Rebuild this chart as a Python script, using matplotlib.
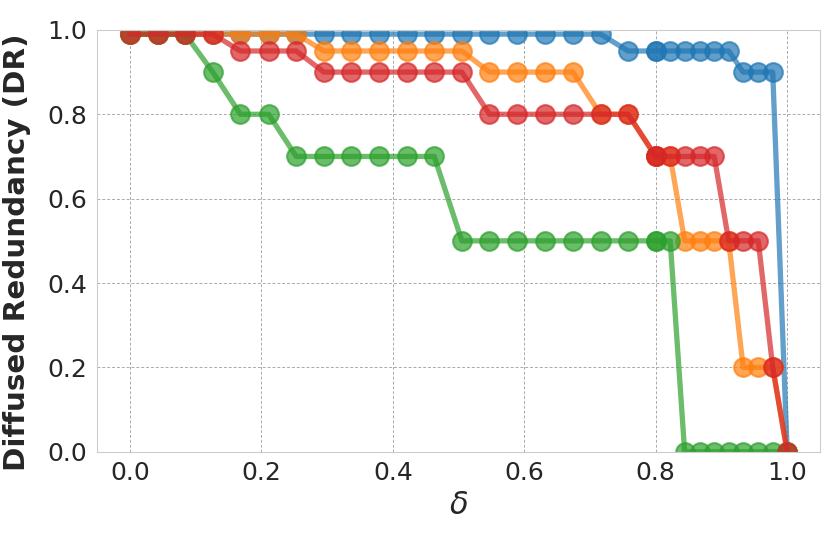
import matplotlib
matplotlib.use('Agg')
import matplotlib.pyplot as plt

# delta values (two sweeps: 0..0.8 and 0.8..1.0)
delta = [0.0, 0.042, 0.084, 0.126, 0.168, 0.211, 0.253, 0.295, 0.337, 0.379,
         0.421, 0.463, 0.505, 0.547, 0.589, 0.632, 0.674, 0.716, 0.758, 0.8,
         0.8, 0.822, 0.844, 0.867, 0.889, 0.911, 0.933, 0.956, 0.978, 1.0]

dr_blue = [0.99] * 18 + [0.95, 0.95,
           0.95, 0.95, 0.95, 0.95, 0.95, 0.95, 0.9, 0.9, 0.9, 0.0]
dr_orange = [0.99, 0.99, 0.99, 0.99, 0.99, 0.99, 0.99, 0.95, 0.95, 0.95,
             0.95, 0.95, 0.95, 0.9, 0.9, 0.9, 0.9, 0.8, 0.8, 0.7,
             0.7, 0.7, 0.5, 0.5, 0.5, 0.5, 0.2, 0.2, 0.2, 0.0]
dr_green = [0.99, 0.99, 0.99, 0.9, 0.8, 0.8, 0.7, 0.7, 0.7, 0.7,
            0.7, 0.7, 0.5, 0.5, 0.5, 0.5, 0.5, 0.5, 0.5, 0.5,
            0.5, 0.5, 0.0, 0.0, 0.0, 0.0, 0.0, 0.0, 0.0, 0.0]
dr_red = [0.99, 0.99, 0.99, 0.99, 0.95, 0.95, 0.95, 0.9, 0.9, 0.9,
          0.9, 0.9, 0.9, 0.8, 0.8, 0.8, 0.8, 0.8, 0.8, 0.7,
          0.7, 0.7, 0.7, 0.7, 0.7, 0.5, 0.5, 0.5, 0.2, 0.0]

series = [dr_blue, dr_orange, dr_green, dr_red]
colors = ['tab:blue', 'tab:orange', 'tab:green', 'tab:red']

fig, ax = plt.subplots(figsize=(8.3, 5.34), dpi=100)
fig.subplots_adjust(left=0.117, right=0.988, top=0.944, bottom=0.154)

for ys, c in zip(series, colors):
    ax.plot(delta, ys, color=c, marker='o', markersize=13.5, linewidth=3.8,
            markeredgewidth=1.5, alpha=0.7)

ax.set_xlim(-0.05, 1.05)
ax.set_ylim(0, 1)
ax.set_xticks([0.0, 0.2, 0.4, 0.6, 0.8, 1.0])
ax.set_yticks([0.0, 0.2, 0.4, 0.6, 0.8, 1.0])
ax.tick_params(labelsize=18, length=0, colors='#262626', pad=7)
ax.grid(True, linestyle=(0, (3, 2)), color='#aaaaaa', linewidth=0.7)
ax.set_axisbelow(True)
for s in ax.spines.values():
    s.set_color('#cccccc')

ax.set_xlabel(r'$\delta$', fontsize=22, color='#262626')
ax.set_ylabel('Diffused Redundancy (DR)', fontsize=21.2, fontweight='bold',
              color='#262626')
ax.yaxis.set_label_coords(-0.092, 0.472)

plt.savefig('out.png')
